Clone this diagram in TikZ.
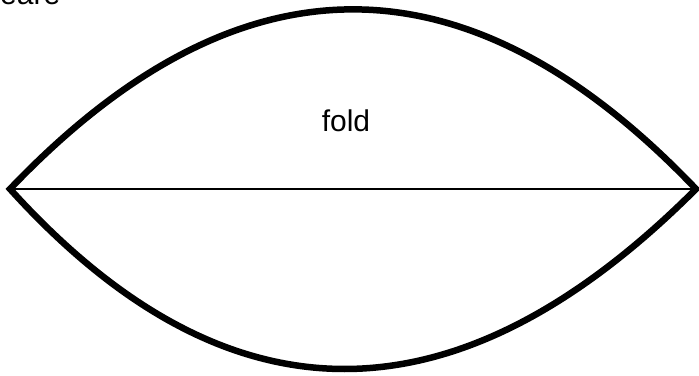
\documentclass[tikz,border=0pt]{standalone}
\usepackage{fontspec}
\setmainfont{Liberation Sans}
\begin{document}
\begin{tikzpicture}[x=1pt,y=1pt,
  outline/.style={line width=6.5pt, line join=miter, miter limit=10},
  foldline/.style={line width=2.3pt},
  lbl/.style={font=\fontsize{30}{36}\selectfont, inner sep=0pt}]
\useasboundingbox (0,0) rectangle (699,375);
\coordinate (L) at (10,186);
\coordinate (R) at (696,186);
\draw[outline] (L) .. controls (238.7,425.5) and (467.3,425.5) .. (R)
  .. controls (456,-54) and (227.3,-54) .. (L) -- cycle;
\draw[foldline] (L) -- (R);
\node[lbl, anchor=base] (fold) at (346,243.5) {fold};
\node[lbl, anchor=base west] (top) at (0,370.5) {eare};
\end{tikzpicture}
\end{document}
